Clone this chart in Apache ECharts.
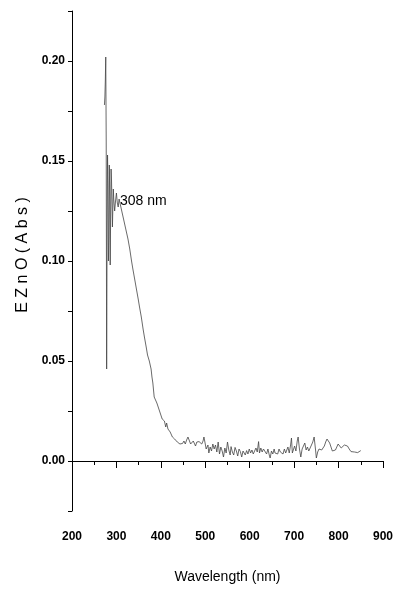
<!DOCTYPE html>
<html>
<head>
<meta charset="utf-8">
<script src="https://cdn.jsdelivr.net/npm/echarts@6/dist/echarts.min.js"></script>
<style>
  html, body { margin: 0; padding: 0; background: #fff; }
  #chart { width: 396px; height: 595px; }
</style>
</head>
<body>
<div id="chart"></div>
<script>
// wavelength (nm) and absorbance
const wavelengths = [
  273, 274, 275, 276, 277, 278, 279, 280, 281, 282, 283, 284, 285, 286, 287, 288, 289, 290,
  291, 292, 293, 294, 296, 298, 300, 302, 304, 306, 308, 310, 313, 316, 319, 322, 326, 330,
  334, 337, 341, 345, 349, 352, 356, 360, 363, 367, 370, 374, 378, 380, 382, 385, 388, 391,
  394, 397, 400, 403, 406, 408, 411, 413, 416, 419, 421, 423, 426, 429, 431, 434, 437, 440,
  443, 446, 449, 452, 455, 458, 461, 464, 467, 470, 473, 475, 478, 481, 484, 486, 489, 492,
  495, 497, 500, 502, 504, 506, 508, 511, 514, 517, 520, 523, 526, 529, 532, 535, 538, 541,
  544, 547, 550, 553, 556, 558, 561, 564, 567, 570, 573, 576, 579, 582, 585, 588, 590, 593,
  596, 599, 602, 605, 608, 611, 614, 617, 620, 622, 625, 628, 631, 635, 638, 641, 644, 646,
  649, 652, 655, 657, 660, 663, 666, 669, 672, 675, 678, 681, 683, 686, 689, 692, 694, 696,
  698, 701, 704, 707, 709, 712, 715, 718, 721, 724, 727, 730, 733, 736, 739, 742, 745, 748,
  750, 753, 756, 759, 762, 765, 768, 771, 774, 777, 780, 783, 786, 790, 793, 796, 799, 802,
  806, 810, 813, 817, 820, 824, 828, 832, 836, 840, 843, 847, 850
];
const absorbance = [
  0.178, 0.182, 0.190, 0.202, 0.160, 0.046, 0.118, 0.153, 0.138, 0.100, 0.112, 0.148, 0.132, 0.098, 0.124, 0.146, 0.140, 0.129,
  0.117, 0.127, 0.136, 0.131, 0.125, 0.130, 0.134, 0.129, 0.127, 0.131, 0.129, 0.127, 0.124, 0.121, 0.118, 0.115, 0.111, 0.106,
  0.100, 0.096, 0.091, 0.086, 0.081, 0.077, 0.072, 0.066, 0.062, 0.057, 0.053, 0.050, 0.046, 0.042, 0.039, 0.032, 0.031, 0.029,
  0.027, 0.025, 0.024, 0.021, 0.022, 0.020, 0.017, 0.019, 0.016, 0.015, 0.0145, 0.014, 0.012, 0.0125, 0.011, 0.0105, 0.0095, 0.010,
  0.0085, 0.0095, 0.0088, 0.0100, 0.0085, 0.0105, 0.0120, 0.0110, 0.0085, 0.0095, 0.0100, 0.0090, 0.0075, 0.0095, 0.0088, 0.0097, 0.0090, 0.0085,
  0.0100, 0.0120, 0.0085, 0.0060, 0.0063, 0.0080, 0.0040, 0.0070, 0.0050, 0.0085, 0.0060, 0.0080, 0.0045, 0.0095, 0.0035, 0.0070, 0.0050, 0.0020,
  0.0065, 0.0040, 0.0095, 0.0055, 0.0030, 0.0072, 0.0045, 0.0030, 0.0068, 0.0050, 0.0025, 0.0060, 0.0047, 0.0020, 0.0050, 0.0040, 0.0030, 0.0052,
  0.0035, 0.0060, 0.0040, 0.0055, 0.0035, 0.0050, 0.0065, 0.0045, 0.0097, 0.0040, 0.0065, 0.0045, 0.0060, 0.0055, 0.0035, 0.0060, 0.0030, 0.0015,
  0.0050, 0.0035, 0.0060, 0.0040, 0.0050, 0.0035, 0.0060, 0.0045, 0.0055, 0.0035, 0.0060, 0.0040, 0.0045, 0.0070, 0.0040, 0.0080, 0.0115, 0.0040,
  0.0040, 0.0075, 0.0050, 0.0100, 0.0120, 0.0060, 0.0020, 0.0060, 0.0075, 0.0090, 0.0055, 0.0070, 0.0050, 0.0055, 0.0080, 0.0095, 0.0120, 0.0060,
  0.0015, 0.0045, 0.0060, 0.0050, 0.0055, 0.0060, 0.0075, 0.0095, 0.0110, 0.0115, 0.0090, 0.0070, 0.0050, 0.0040, 0.0055, 0.0070, 0.0085, 0.0090,
  0.0065, 0.0065, 0.0080, 0.0090, 0.0075, 0.0060, 0.0047, 0.0045, 0.0045, 0.0043, 0.0042, 0.0048, 0.0052
];
const xTicks = [200, 300, 400, 500, 600, 700, 800, 900];
const yTickLabels = [0, 0.05, 0.10, 0.15, 0.20];
const yTicks = [-0.025, 0, 0.025, 0.05, 0.075, 0.1, 0.125, 0.15, 0.175, 0.2, 0.225];
const peakLabel = { wl: 308, abs: 0.13, text: '308 nm' };

const font = '"Liberation Sans", Arial, sans-serif';

var myChart = echarts.init(document.getElementById('chart'));
myChart.setOption({
    animation: false,
    grid: { left: 72, right: 10, top: 11, bottom: 84 },
    xAxis: {
        type: 'value',
        min: 200,
        max: 900,
        interval: 100,
        name: 'Wavelength (nm)',
        nameLocation: 'middle',
        nameGap: 59,
        nameTextStyle: { fontFamily: font, fontSize: 14, color: '#000' },
        axisLine: { show: true, lineStyle: { color: '#000', width: 1 } },
        axisTick: { show: true, inside: false, length: 7, lineStyle: { color: '#000' } },
        minorTick: { show: true, splitNumber: 2, length: 4, lineStyle: { color: '#000' } },
        axisLabel: {
            margin: 20, fontFamily: font, fontWeight: 'bold', fontSize: 12, color: '#000',
            customValues: xTicks
        },
        splitLine: { show: false }
    },
    yAxis: {
        type: 'value',
        min: -0.025,
        max: 0.225,
        name: 'E Z n O ( A b s )',
        nameLocation: 'middle',
        nameGap: 40,
        nameRotate: 90,
        nameTextStyle: { fontFamily: font, fontSize: 16, color: '#000', padding: [0, 0, 0, 12] },
        axisLine: { show: true, lineStyle: { color: '#000', width: 1 } },
        axisTick: { show: true, inside: false, length: 4, customValues: yTicks, lineStyle: { color: '#000' } },
        axisLabel: {
            margin: 7, fontFamily: font, fontWeight: 'bold', fontSize: 12, color: '#000',
            customValues: yTickLabels,
            formatter: function (v) { return v.toFixed(2); }
        },
        splitLine: { show: false }
    },
    series: [{
        type: 'line',
        data: wavelengths.map(function (w, i) { return [w, absorbance[i]]; }),
        showSymbol: false,
        symbol: 'none',
        lineStyle: { color: '#444', width: 0.8 },
        markPoint: {
            symbol: 'circle',
            symbolSize: 0,
            label: {
                show: true, position: 'right', distance: 0,
                formatter: peakLabel.text,
                fontFamily: font, fontSize: 14, color: '#000'
            },
            data: [{ coord: [peakLabel.wl, peakLabel.abs] }]
        }
    }]
});
</script>
</body>
</html>
